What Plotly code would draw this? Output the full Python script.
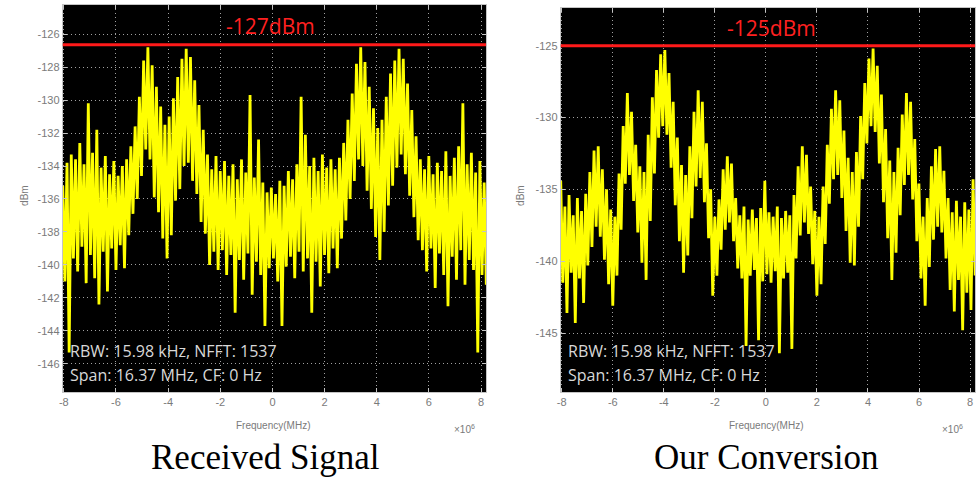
import numpy as np
import plotly.graph_objects as go

# ---------------- data ----------------
freq_start = -8.04   # MHz, first FFT bin shown
freq_stop = 8.20     # MHz, last FFT bin shown
n_bins = 200

# Received signal: alternating high / low samples of the noisy trace (dBm)
recv_upper = [
    -135.2, -133.8, -133.3, -133.6, -132.6, -133.9, -130.2, -133.2, -131.8, -134.1,
    -133.4, -134.5, -133.7, -134.6, -134.0, -133.6, -132.8, -131.6, -129.8, -127.6,
    -126.8, -127.9, -129.2, -130.4, -131.5, -131.0, -129.9, -128.6, -127.5, -126.9,
    -127.4, -128.8, -130.3, -131.8, -133.3, -134.2, -133.4, -134.3, -133.7, -134.6,
    -133.9, -134.8, -133.6, -134.4, -129.7, -134.7, -132.4, -135.0, -135.6, -135.3,
    -135.7, -134.9, -135.2, -134.3, -134.8, -133.9, -129.8, -132.1, -134.0, -133.5,
    -134.3, -133.3, -134.1, -133.6, -134.2, -133.5, -132.6, -131.2, -129.6, -127.8,
    -126.8, -127.7, -129.2, -130.5, -131.7, -131.2, -129.8, -128.4, -127.6, -126.9,
    -127.5, -129.0, -130.6, -132.2, -133.6, -134.2, -133.4, -134.5, -133.8, -134.3,
    -133.1, -134.6, -133.5, -132.8, -130.2, -133.9, -133.2, -134.4, -133.7, -135.0,
]
recv_lower = [
    -141.0, -145.3, -139.6, -140.4, -138.9, -141.1, -139.4, -140.8, -142.4, -139.2,
    -141.6, -139.0, -140.3, -138.8, -140.2, -138.2, -136.9, -136.0, -134.6, -133.0,
    -133.6, -135.9, -136.8, -138.4, -139.6, -138.2, -136.1, -135.4, -134.0, -133.8,
    -134.9, -135.7, -137.4, -138.1, -140.0, -139.2, -140.3, -139.1, -140.6, -139.4,
    -142.9, -139.7, -140.9, -139.3, -141.8, -139.8, -140.6, -143.7, -140.2, -139.6,
    -141.0, -143.7, -140.1, -139.5, -140.8, -139.2, -140.4, -139.6, -142.9, -139.8,
    -141.3, -139.4, -140.5, -139.0, -140.2, -138.4, -137.3, -136.0, -134.9, -133.6,
    -134.0, -135.5, -136.6, -138.3, -139.7, -138.0, -136.4, -135.2, -134.1, -133.3,
    -134.5, -135.8, -137.1, -138.5, -139.1, -140.4, -139.0, -141.4, -139.3, -140.6,
    -142.5, -139.5, -140.9, -139.1, -141.2, -139.7, -140.3, -145.3, -140.6, -141.2,
]

# Our conversion
conv_upper = [
    -134.4, -136.2, -135.4, -136.8, -135.6, -136.5, -135.3, -133.8, -132.3, -132.0,
    -133.6, -135.0, -136.4, -136.9, -133.9, -130.6, -128.3, -129.6, -131.9, -133.4,
    -133.8, -131.2, -128.6, -126.7, -125.6, -125.3, -126.9, -128.9, -131.4, -133.3,
    -134.0, -132.0, -129.6, -128.1, -128.9, -131.8, -135.0, -136.9, -135.7, -133.6,
    -132.7, -133.2, -135.6, -136.8, -136.2, -137.1, -136.4, -137.0, -136.3, -134.4,
    -136.6, -136.9, -136.2, -137.0, -136.5, -136.8, -135.4, -133.4, -132.0, -132.6,
    -134.8, -136.5, -136.9, -134.8, -131.9, -129.4, -128.1, -128.8, -130.9, -132.8,
    -133.8, -132.4, -129.9, -127.6, -125.9, -125.2, -126.4, -128.4, -130.8, -133.0,
    -133.8, -132.1, -129.8, -128.3, -128.9, -131.5, -134.6, -136.9, -135.6, -133.4,
    -132.2, -132.0, -133.7, -135.6, -136.6, -135.8, -136.9, -135.9, -136.4, -134.3,
]
conv_lower = [
    -141.5, -143.6, -140.8, -144.3, -141.2, -142.9, -140.3, -139.0, -137.6, -138.3,
    -139.9, -141.6, -143.1, -141.0, -137.8, -134.6, -134.0, -135.8, -138.0, -140.1,
    -141.3, -137.2, -133.9, -131.4, -130.6, -131.2, -133.5, -136.1, -138.6, -140.8,
    -139.6, -137.0, -134.8, -134.2, -135.9, -138.4, -142.4, -141.0, -139.2, -137.8,
    -137.3, -138.6, -140.5, -141.2, -145.9, -141.0, -140.6, -145.5, -141.4, -140.9,
    -141.5, -140.7, -146.4, -141.2, -140.8, -146.1, -139.8, -138.2, -137.3, -138.1,
    -140.2, -142.4, -141.6, -138.8, -136.0, -134.3, -134.0, -135.6, -137.9, -140.1,
    -140.3, -137.6, -134.3, -131.8, -130.6, -131.0, -133.2, -135.9, -138.4, -141.3,
    -139.4, -136.8, -134.7, -134.0, -135.7, -138.6, -141.2, -143.1, -140.4, -138.5,
    -137.6, -138.0, -139.8, -142.0, -143.5, -141.3, -144.8, -142.2, -143.4, -141.0,
]

recv_ref_level = -126.65
conv_ref_level = -125.0
recv_ref_label = "-127dBm"
conv_ref_label = "-125dBm"

recv_yticks = [-146, -144, -142, -140, -138, -136, -134, -132, -130, -128, -126]
conv_yticks = [-145, -140, -135, -130, -125]
xticks = [-8, -6, -4, -2, 0, 2, 4, 6, 8]

panel_titles = ["Received Signal", "Our Conversion"]
info_line1 = "RBW: 15.98 kHz, NFFT: 1537"
info_line2 = "Span: 16.37 MHz, CF: 0 Hz"

# ---------------- figure ----------------
freq = np.linspace(freq_start, freq_stop, n_bins)


def interleave(hi, lo):
    out = []
    for a, b in zip(hi, lo):
        out.extend([a, b])
    return out


TRACE = "#ffff00"
fig = go.Figure()
fig.add_trace(go.Scatter(x=freq, y=interleave(recv_upper, recv_lower), mode="lines",
                         line=dict(color=TRACE, width=2.8), xaxis="x", yaxis="y",
                         showlegend=False, hoverinfo="skip"))
fig.add_trace(go.Scatter(x=freq, y=interleave(conv_upper, conv_lower), mode="lines",
                         line=dict(color=TRACE, width=2.8), xaxis="x2", yaxis="y2",
                         showlegend=False, hoverinfo="skip"))

GRID = "#a0a0a0"
FRAME = "#c4c4c4"
TICKFONT = dict(family="Liberation Sans, Arial", size=11, color="#7a7a7a")


def xaxis_cfg(domain, rng, anchor):
    return dict(domain=domain, range=rng, anchor=anchor, tickvals=xticks,
                ticktext=[str(v) for v in xticks], tickfont=TICKFONT,
                showgrid=True, gridcolor=GRID, griddash="1px,3px", gridwidth=1,
                zeroline=False, showline=True, linecolor=FRAME, linewidth=1,
                mirror="ticks", ticks="inside", ticklen=4, tickcolor=FRAME)


def yaxis_cfg(domain, rng, anchor, ticks):
    return dict(domain=domain, range=rng, anchor=anchor, tickvals=ticks,
                ticktext=[str(v) for v in ticks], tickfont=TICKFONT,
                showgrid=True, gridcolor=GRID, griddash="1px,3px", gridwidth=1,
                zeroline=False, showline=True, linecolor=FRAME, linewidth=1,
                mirror="ticks", ticks="inside", ticklen=4, tickcolor=FRAME)


W, H = 980, 479
L_x0, L_x1, R_x0, R_x1 = 59, 484, 559, 975
L_top, R_top, bottom = 5, 8, 392

fig.update_layout(
    width=W, height=H, margin=dict(l=0, r=0, t=0, b=0),
    paper_bgcolor="white", plot_bgcolor="black",
    xaxis=xaxis_cfg([L_x0 / W, L_x1 / W], [-8.04, 8.19], "y"),
    yaxis=yaxis_cfg([1 - bottom / H, 1 - L_top / H], [-147.7, -124.24], "x", recv_yticks),
    xaxis2=xaxis_cfg([R_x0 / W, R_x1 / W], [-8.04, 8.195], "y2"),
    yaxis2=yaxis_cfg([1 - bottom / H, 1 - R_top / H], [-149.1, -122.38], "x2", conv_yticks),
)

# red reference lines
for yref, xref, lvl in (("y", "x", recv_ref_level), ("y2", "x2", conv_ref_level)):
    fig.add_shape(type="line", xref=xref + " domain", x0=0, x1=1, yref=yref,
                  y0=lvl, y1=lvl, line=dict(color="#ff1a1a", width=3))


def note(x, y, text, font, xanchor="center", **kw):
    fig.add_annotation(x=x / W, y=1 - y / H, xref="paper", yref="paper", text=text,
                       showarrow=False, xanchor=xanchor, yanchor="middle",
                       font=font, **kw)


RED_FONT = dict(family="Open Sans, Liberation Sans", size=21, color="#ff2020")
note(268, 26, recv_ref_label, RED_FONT)
note(771, 28, conv_ref_label, RED_FONT)

INFO_FONT = dict(family="Open Sans, DejaVu Sans", size=16, color="#d8d8d8")
for x0 in (64, 564):
    note(x0, 351, info_line1, INFO_FONT, xanchor="left")
    note(x0, 375, info_line2, INFO_FONT, xanchor="left")

SMALL = dict(family="Liberation Sans, Arial", size=10, color="#7a7a7a")
for xc, xe, yl in ((270, 462, 20), (765, 952, 518)):
    note(xc, 425, "Frequency(MHz)", SMALL)
    note(xe, 429, "×10<sup>6</sup>", SMALL)
    note(yl, 195, "dBm", SMALL, textangle=-90)

TITLE_FONT = dict(family="Liberation Serif, Times New Roman", size=35, color="black")
for xc, t in zip((263, 766), panel_titles):
    note(xc, 457, t, TITLE_FONT)

fig.write_html("out.html")
